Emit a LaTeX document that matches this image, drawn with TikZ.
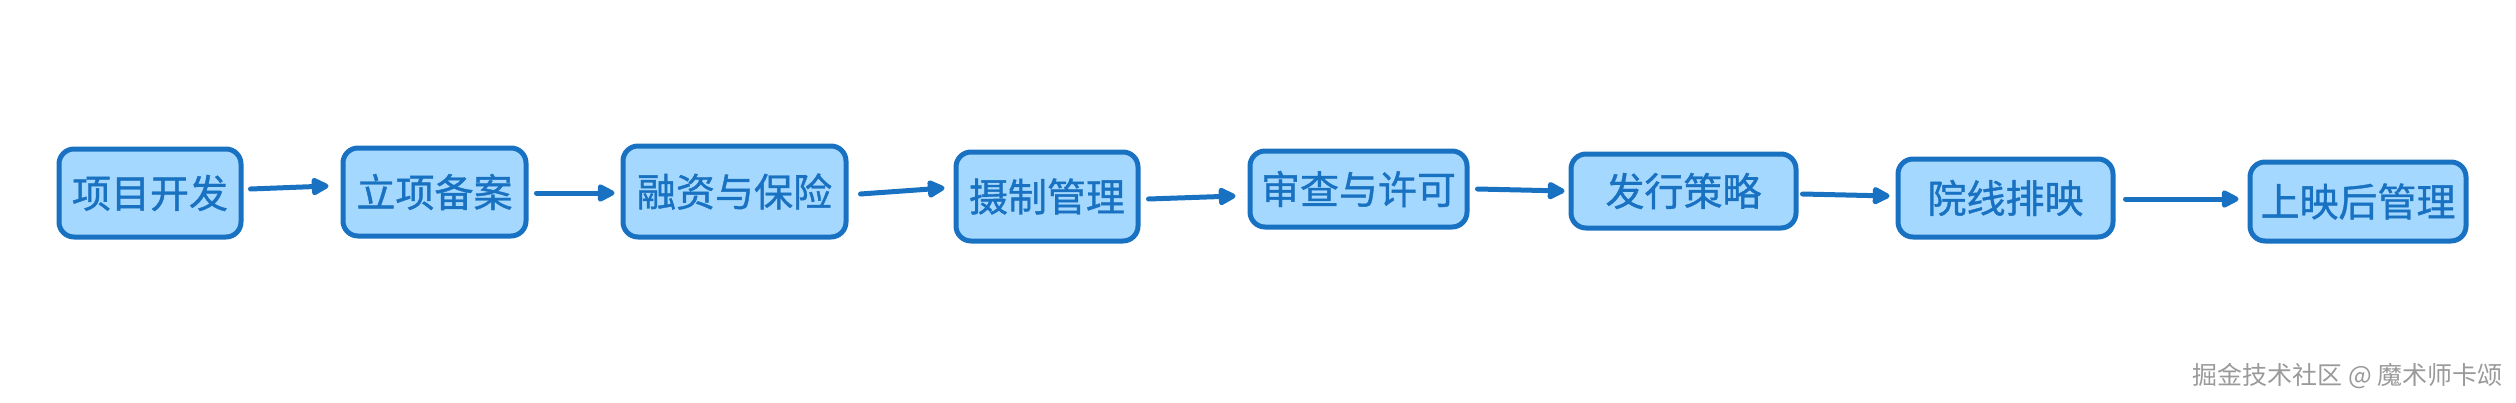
\documentclass[tikz,border=0pt]{standalone}
\usepackage{fontspec}
\newfontfamily\cjk[FakeBold=1]{Noto Sans CJK SC}
\newfontfamily\cjkw{Noto Sans CJK SC}
\usetikzlibrary{arrows.meta,calc}
\definecolor{boxfill}{HTML}{A5D8FF}
\definecolor{boxline}{HTML}{1971C2}
\definecolor{wmark}{HTML}{9A9A9A}
\tikzset{
  stagebox/.style={draw=boxline, fill=boxfill, line width=5pt, rounded corners=15pt,
    inner sep=0pt, text=boxline, font=\cjk\fontsize{39}{42}\selectfont, align=center},
  flowarrow/.style={draw=boxline, line width=5pt, line cap=round,
    -{Triangle[length=20pt,width=19pt,round]}}
}
\begin{document}
\begin{tikzpicture}[x=1pt,y=-1pt]
\useasboundingbox (0,0) rectangle (2516,402);
\node[stagebox, minimum width=182pt, minimum height=88pt] (n1) at (150,193) {项目开发};
\node[stagebox, minimum width=183pt, minimum height=88pt] (n2) at (434.5,192) {立项备案};
\node[stagebox, minimum width=223pt, minimum height=91pt] (n3) at (734.5,191.5) {融资与保险};
\node[stagebox, minimum width=182pt, minimum height=89pt] (n4) at (1047,196.5) {摄制管理};
\node[stagebox, minimum width=217pt, minimum height=76pt] (n5) at (1358.5,189) {审查与许可};
\node[stagebox, minimum width=225pt, minimum height=74pt] (n6) at (1683.5,191) {发行策略};
\node[stagebox, minimum width=215pt, minimum height=78pt] (n7) at (2005.5,198) {院线排映};
\node[stagebox, minimum width=216pt, minimum height=79pt] (n8) at (2358,201.5) {上映后管理};
\draw[flowarrow] ($(n1.east)+(7,-4)$) -- ($(n2.west)+(-12,-6)$);
\draw[flowarrow] ($(n2.east)+(8,1)$) -- ($(n3.west)+(-6,1.5)$);
\draw[flowarrow] ($(n3.east)+(12,2.5)$) -- ($(n4.west)+(-9,-8.5)$);
\draw[flowarrow] ($(n4.east)+(8,2.5)$) -- ($(n5.west)+(-12,7)$);
\draw[flowarrow] ($(n5.east)+(8,0)$) -- ($(n6.west)+(-4,0)$);
\draw[flowarrow] ($(n6.east)+(4,3)$) -- ($(n7.west)+(-6,-2)$);
\draw[flowarrow] ($(n7.east)+(10,1)$) -- ($(n8.west)+(-9,-2.5)$);
\node[font=\cjkw\fontsize{25}{27}\selectfont, text=wmark, anchor=east, inner sep=0pt] (wm) at (2503,376) {掘金技术社区 @ 魔术师卡颂};
\end{tikzpicture}
\end{document}
